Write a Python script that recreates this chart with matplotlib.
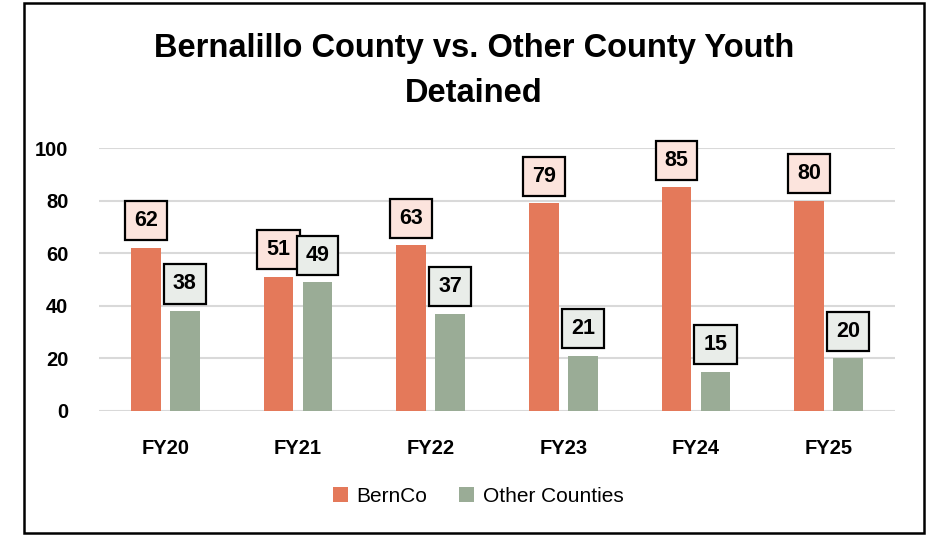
import matplotlib
matplotlib.use("Agg")
import matplotlib.pyplot as plt
import numpy as np
from matplotlib.patches import Rectangle

categories = ["FY20", "FY21", "FY22", "FY23", "FY24", "FY25"]
bernco = [62, 51, 63, 79, 85, 80]
other = [38, 49, 37, 21, 15, 20]
series_names = ["BernCo", "Other Counties"]
yticks = [0, 20, 40, 60, 80, 100]

FONT = ["Liberation Sans", "DejaVu Sans"]
plt.rcParams["font.family"] = FONT

W, H = 930, 535
fig = plt.figure(figsize=(W / 100, H / 100), dpi=100)

# outer border
fig.patches.append(Rectangle((24 / W, 1 - 533 / H), (924 - 24) / W, (533 - 3) / H,
                             transform=fig.transFigure, fill=False,
                             edgecolor="black", linewidth=1.8))

ax = fig.add_axes([99 / W, 1 - 411 / H, (895 - 99) / W, (411 - 148) / H])
x = np.arange(len(categories))
bw = 0.226
gap = 0.068
c1 = "#E4795A"
c2 = "#9AAC96"
b1 = ax.bar(x - (bw + gap) / 2, bernco, bw, color=c1, label=series_names[0], zorder=3)
b2 = ax.bar(x + (bw + gap) / 2, other, bw, color=c2, label=series_names[1], zorder=3)

ax.set_xlim(-0.5, len(categories) - 0.5)
ax.set_ylim(0, 100)
ax.set_yticks(yticks)
ax.set_yticklabels([str(t) for t in yticks], fontsize=14.5, fontweight="bold")
ax.set_xticks(x)
ax.set_xticklabels(categories, fontsize=14.5, fontweight="bold")
ax.tick_params(axis="both", length=0)
ax.tick_params(axis="y", pad=22)
ax.tick_params(axis="x", pad=20)
for s in ax.spines.values():
    s.set_visible(False)
ax.grid(axis="y", color="#D9D9D9", linewidth=1.5, zorder=0)
ax.set_axisbelow(True)

for bars, vals, fc in [(b1, bernco, "#FCE4DD"), (b2, other, "#E9EDE9")]:
    for rect, v in zip(bars, vals):
        ax.annotate(str(v), (rect.get_x() + rect.get_width() / 2, v),
                    xytext=(0, 19.5), textcoords="offset points",
                    ha="center", va="center", fontsize=15.5, fontweight="bold",
                    bbox=dict(boxstyle="square,pad=0.42", facecolor=fc,
                              edgecolor="black", linewidth=1.6), zorder=5)

fig.text(474 / W, 1 - 48 / H, "Bernalillo County vs. Other County Youth",
         ha="center", va="center", fontsize=23.5, fontweight="bold")
fig.text(474 / W, 1 - 93 / H, "Detained",
         ha="center", va="center", fontsize=23.5, fontweight="bold")

leg = fig.legend(handles=[b1, b2], labels=series_names, loc="center",
                 bbox_to_anchor=(478 / W, 1 - 496 / H), ncol=2, frameon=False,
                 fontsize=15, handlelength=0.75, handleheight=0.75,
                 columnspacing=1.5, handletextpad=0.4)

fig.savefig("out.png", dpi=100)
